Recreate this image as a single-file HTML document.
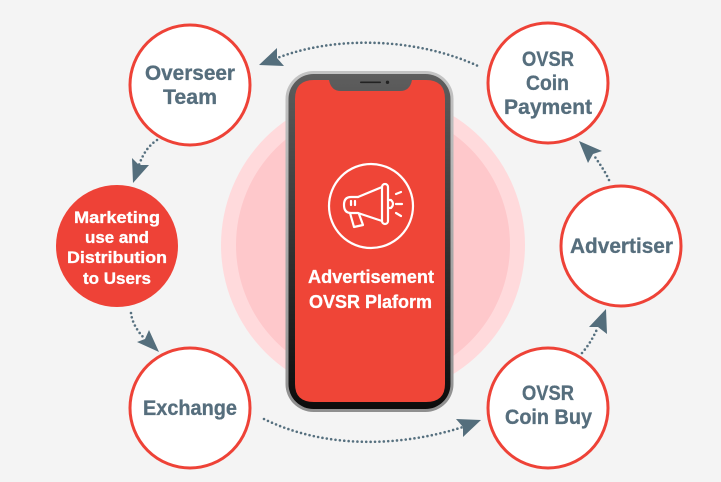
<!DOCTYPE html>
<html><head><meta charset="utf-8"><style>html,body{margin:0;padding:0;background:#f4f4f4}svg{display:block}text{font-family:"Liberation Sans",sans-serif;font-weight:700;stroke:currentColor;stroke-width:.3px}</style></head>
<body>
<svg width="721" height="482" viewBox="0 0 721 482" xmlns="http://www.w3.org/2000/svg">
<defs>
<linearGradient id="rim" x1="0" y1="0" x2="0" y2="1"><stop offset="0" stop-color="#c4c4c4"/><stop offset="1" stop-color="#8f8f8f"/></linearGradient>
<linearGradient id="bez" x1="0" y1="0" x2="0" y2="1"><stop offset="0" stop-color="#5e5e5e"/><stop offset="0.5" stop-color="#343434"/><stop offset="1" stop-color="#0c0c0c"/></linearGradient>
</defs>
<rect width="721" height="482" fill="#f4f4f4"/>
<circle cx="373" cy="245" r="152" fill="#ffdadc"/>
<circle cx="373" cy="245" r="137" fill="#fec8cb"/>
<rect x="285.500" y="71" width="168" height="341" rx="28" fill="url(#rim)"/>
<rect x="288.500" y="74" width="162" height="335" rx="25" fill="url(#bez)"/>
<path d="M314 80H329Q331 91 341 91H400Q410 91 412 80H426Q445 80 445 99V384Q445 402 426 402H314Q295 402 295 384V99Q295 80 314 80Z" fill="#ef4537"/>
<rect x="360" y="81.500" width="21" height="1.600" rx="0.800" fill="#222"/>
<circle cx="387.500" cy="82.300" r="1.700" fill="#222"/>

<g fill="none" stroke="#fff" stroke-width="2.200" stroke-linejoin="round" stroke-linecap="round">
<circle cx="371" cy="206" r="42"/>
<rect x="382" y="184" width="6" height="40" rx="3"/>
<path d="M382 187L358 197M382 221L358 213"/>
<path d="M358 197H351Q344 197 344 205Q344 213 351 213H358"/>
<path d="M350 213L354 227L363 225L359 214"/>
<path d="M388 200H391Q393 202 393 204Q393 206 391 208H388"/>
<path d="M396 194L401 192M396 204H402M396 213L401 216"/>
<path d="M351 201V205M355 201V205"/>
</g>
<text x="308" y="283" font-size="18" fill="#fff" color="#fff" textLength="126" lengthAdjust="spacingAndGlyphs">Advertisement</text>
<text x="309" y="308" font-size="18" fill="#fff" color="#fff" textLength="123" lengthAdjust="spacingAndGlyphs">OVSR Plaform</text>

<g fill="#fff" stroke="#ee4237" stroke-width="3">
<circle cx="190" cy="85" r="60"/>
<circle cx="190" cy="408" r="60"/>
<circle cx="548" cy="83" r="60"/>
<circle cx="621" cy="246" r="60"/>
<circle cx="548" cy="408" r="60"/>
</g>
<circle cx="117" cy="246" r="61" fill="#ee4237"/>

<g fill="#566e7d" color="#566e7d" font-size="21">
<text x="145" y="80" textLength="90" lengthAdjust="spacingAndGlyphs">Overseer</text>
<text x="163" y="104" textLength="54" lengthAdjust="spacingAndGlyphs">Team</text>
<text x="522" y="66" textLength="52" lengthAdjust="spacingAndGlyphs">OVSR</text>
<text x="526" y="90" textLength="43" lengthAdjust="spacingAndGlyphs">Coin</text>
<text x="504" y="114" textLength="88" lengthAdjust="spacingAndGlyphs">Payment</text>
<text x="570" y="253" textLength="103" lengthAdjust="spacingAndGlyphs">Advertiser</text>
<text x="522" y="400" textLength="52" lengthAdjust="spacingAndGlyphs">OVSR</text>
<text x="505" y="424" textLength="87" lengthAdjust="spacingAndGlyphs">Coin Buy</text>
<text x="143" y="415" textLength="94" lengthAdjust="spacingAndGlyphs">Exchange</text>
</g>
<g fill="#fff" color="#fff" font-size="17">
<text x="74" y="223" textLength="86" lengthAdjust="spacingAndGlyphs">Marketing</text>
<text x="85" y="243" textLength="64" lengthAdjust="spacingAndGlyphs">use and</text>
<text x="67" y="263" textLength="100" lengthAdjust="spacingAndGlyphs">Distribution</text>
<text x="83" y="284" textLength="68" lengthAdjust="spacingAndGlyphs">to Users</text>
</g>

<g fill="none" stroke="#56707f" stroke-width="2.600" stroke-linecap="round" stroke-dasharray="0 4.400">
<path d="M477 65.500C420 39.500 340 34 277 58"/>
<path d="M157 140C148 146 143 154 139 165"/>
<path d="M131 313C132 322 137 331 145 339"/>
<path d="M264 419C325 449 400 447 463 427"/>
<path d="M609 180C605 171 599 163 593 154"/>
<path d="M582 353C589 345 594 336 598 327"/>
</g>
<g fill="#546e7c">
<path d="M259 65L277 48L277 58L284 66Z"/>
<path d="M133 183L132 158L139 165L149 165Z"/>
<path d="M159 352L137 342L145 339L149 330Z"/>
<path d="M481 420L456 419L463 427L463 437Z"/>
<path d="M579 141L602 151L593 154L588 163Z"/>
<path d="M606 309L589 327L598 327L607 334Z"/>
</g>
</svg>
</body></html>
